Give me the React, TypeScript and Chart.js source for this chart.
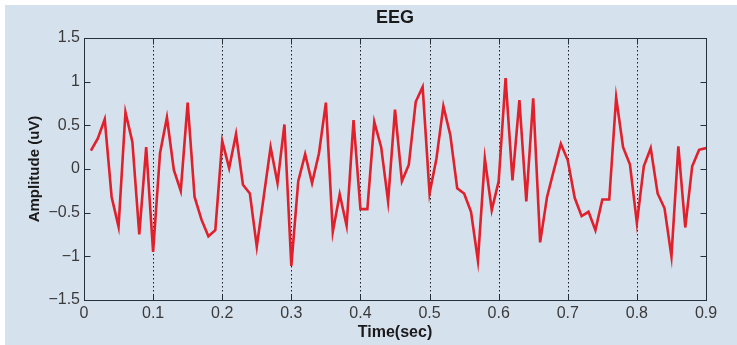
import React, { useEffect, useRef } from "react";
import { Chart, registerables } from "chart.js";

Chart.register(...registerables);

const times = [
  0.01, 0.02, 0.03, 0.04, 0.05, 0.06, 0.07, 0.08, 0.09, 0.1,
  0.11, 0.12, 0.13, 0.14, 0.15, 0.16, 0.17, 0.18, 0.19, 0.2,
  0.21, 0.22, 0.23, 0.24, 0.25, 0.26, 0.27, 0.28, 0.29, 0.3,
  0.31, 0.32, 0.33, 0.34, 0.35, 0.36, 0.37, 0.38, 0.39, 0.4,
  0.41, 0.42, 0.43, 0.44, 0.45, 0.46, 0.47, 0.48, 0.49, 0.5,
  0.51, 0.52, 0.53, 0.54, 0.55, 0.56, 0.57, 0.58, 0.59, 0.6,
  0.61, 0.62, 0.63, 0.64, 0.65, 0.66, 0.67, 0.68, 0.69, 0.7,
  0.71, 0.72, 0.73, 0.74, 0.75, 0.76, 0.77, 0.78, 0.79, 0.8,
  0.81, 0.82, 0.83, 0.84, 0.85, 0.86, 0.87, 0.88, 0.89, 0.9,
];

const amplitudes = [
  0.21, 0.35, 0.57, -0.32, -0.66, 0.65, 0.31, -0.75, 0.25, -0.95,
  0.18, 0.59, -0.01, -0.25, 0.76, -0.32, -0.58, -0.77, -0.7, 0.32,
  0.01, 0.4, -0.18, -0.28, -0.89, -0.32, 0.25, -0.16, 0.51, -1.11,
  -0.14, 0.17, -0.16, 0.18, 0.76, -0.72, -0.29, -0.65, 0.56, -0.46,
  -0.46, 0.54, 0.25, -0.37, 0.68, -0.14, 0.05, 0.77, 0.94, -0.28,
  0.12, 0.72, 0.39, -0.22, -0.28, -0.49, -1.05, 0.12, -0.47, -0.14,
  1.04, -0.13, 0.79, -0.37, 0.81, -0.84, -0.32, -0.01, 0.29, 0.1,
  -0.33, -0.54, -0.49, -0.7, -0.35, -0.35, 0.82, 0.25, 0.05, -0.62,
  0.03, 0.24, -0.28, -0.45, -1.0, 0.26, -0.67, 0.03, 0.22, 0.24,
];

const xTicks = [0, 0.1, 0.2, 0.3, 0.4, 0.5, 0.6, 0.7, 0.8, 0.9];
const xTickLabels = ["0", "0.1", "0.2", "0.3", "0.4", "0.5", "0.6", "0.7", "0.8", "0.9"];
const yTicks = [-1.5, -1, -0.5, 0, 0.5, 1, 1.5];
const yTickLabels = ["\u22121.5", "\u22121", "\u22120.5", "0", "0.5", "1", "1.5"];
const xGridLines = [0.1, 0.2, 0.3, 0.4, 0.5, 0.6, 0.7, 0.8];

const FONT = '"Liberation Sans", Arial, Helvetica, sans-serif';
const BG = "#d6e1ee";
const FRAME = "#26303a";
const LINE = "#e0202b";

const framePlugin = {
  id: "matlabFrame",
  beforeDatasetsDraw(chart: any) {
    const { ctx, chartArea: a, scales } = chart;
    const x = scales.x;
    ctx.save();
    ctx.strokeStyle = "#1a1a1a";
    ctx.lineWidth = 1;
    ctx.setLineDash([1.5, 2.5]);
    for (const g of xGridLines) {
      const px = Math.round(x.getPixelForValue(g)) + 0.5;
      ctx.beginPath();
      ctx.moveTo(px, a.top);
      ctx.lineTo(px, a.bottom);
      ctx.stroke();
    }
    ctx.restore();
  },
  afterDatasetsDraw(chart: any) {
    const { ctx, chartArea: a, scales } = chart;
    const x = scales.x;
    const y = scales.y;
    const L = Math.round(a.left) + 0.5;
    const R = Math.round(a.right) + 0.5;
    const T = Math.round(a.top) + 0.5;
    const B = Math.round(a.bottom) + 0.5;
    const tl = 6;
    ctx.save();
    ctx.strokeStyle = FRAME;
    ctx.lineWidth = 1;
    ctx.setLineDash([]);
    ctx.strokeRect(L, T, R - L, B - T);
    ctx.beginPath();
    for (const v of xTicks) {
      const px = Math.round(x.getPixelForValue(v)) + 0.5;
      ctx.moveTo(px, B);
      ctx.lineTo(px, B - tl);
      ctx.moveTo(px, T);
      ctx.lineTo(px, T + tl);
    }
    for (const v of yTicks) {
      const py = Math.round(y.getPixelForValue(v)) + 0.5;
      ctx.moveTo(L, py);
      ctx.lineTo(L + tl, py);
      ctx.moveTo(R, py);
      ctx.lineTo(R - tl, py);
    }
    ctx.stroke();
    ctx.restore();
  },
};

export default function App() {
  const canvasRef = useRef<HTMLCanvasElement | null>(null);

  useEffect(() => {
    const canvas = canvasRef.current;
    if (!canvas) return;
    const chart = new Chart(canvas, {
      type: "line",
      data: {
        datasets: [
          {
            label: "EEG",
            data: times.map((t, i) => ({ x: t, y: amplitudes[i] })),
            borderColor: LINE,
            borderWidth: 2.6,
            pointRadius: 0,
            tension: 0,
            fill: false,
          },
        ],
      },
      options: {
        responsive: false,
        animation: false,
        devicePixelRatio: 1,
        layout: { padding: { left: 0, right: 31, top: 0, bottom: 0 } },
        plugins: {
          legend: { display: false },
          tooltip: { enabled: false },
          title: {
            display: true,
            text: "EEG",
            fullSize: false,
            color: "#1a1a1a",
            font: { family: FONT, size: 18, weight: "bold" },
            padding: { top: 7.5, bottom: 8.9 },
          },
        },
        scales: {
          x: {
            type: "linear",
            min: 0,
            max: 0.9,
            afterBuildTicks: (s: any) => {
              s.ticks = xTicks.map((v) => ({ value: v }));
            },
            afterFit: (s: any) => {
              s.height = 45;
            },
            grid: { display: false, drawTicks: false },
            border: { display: false },
            ticks: {
              autoSkip: false,
              maxRotation: 0,
              padding: 4,
              color: "#3a3a3a",
              font: { family: FONT, size: 16 },
              callback: (v: any) => {
                const i = xTicks.findIndex((t) => Math.abs(t - Number(v)) < 1e-6);
                return i >= 0 ? xTickLabels[i] : "";
              },
            },
            title: {
              display: true,
              text: "Time(sec)",
              color: "#1a1a1a",
              font: { family: FONT, size: 16, weight: "bold" },
              padding: { top: 0, bottom: 3 },
            },
          },
          y: {
            type: "linear",
            min: -1.5,
            max: 1.5,
            afterBuildTicks: (s: any) => {
              s.ticks = yTicks.map((v) => ({ value: v }));
            },
            afterFit: (s: any) => {
              s.width = 84;
            },
            grid: { display: false, drawTicks: false },
            border: { display: false },
            ticks: {
              autoSkip: false,
              padding: 4,
              color: "#3a3a3a",
              font: { family: FONT, size: 16 },
              callback: (v: any) => {
                const i = yTicks.findIndex((t) => Math.abs(t - Number(v)) < 1e-6);
                return i >= 0 ? yTickLabels[i] : "";
              },
            },
            title: {
              display: true,
              text: "Amplitude (uV)",
              color: "#1a1a1a",
              font: { family: FONT, size: 15, weight: "bold" },
              padding: { top: 26, bottom: 0 },
            },
          },
        },
      },
      plugins: [framePlugin],
    } as any);
    return () => chart.destroy();
  }, []);

  return (
    <div
      style={{
        position: "fixed",
        left: 0,
        top: 0,
        width: 737,
        height: 345,
        background: "#ffffff",
        overflow: "hidden",
      }}
    >
      <div
        style={{
          position: "absolute",
          left: 5,
          top: 5,
          right: 0,
          bottom: 0,
          background: BG,
        }}
      />
      <canvas
        ref={canvasRef}
        width={737}
        height={345}
        style={{ position: "absolute", left: 0, top: 0, width: 737, height: 345 }}
      />
    </div>
  );
}
